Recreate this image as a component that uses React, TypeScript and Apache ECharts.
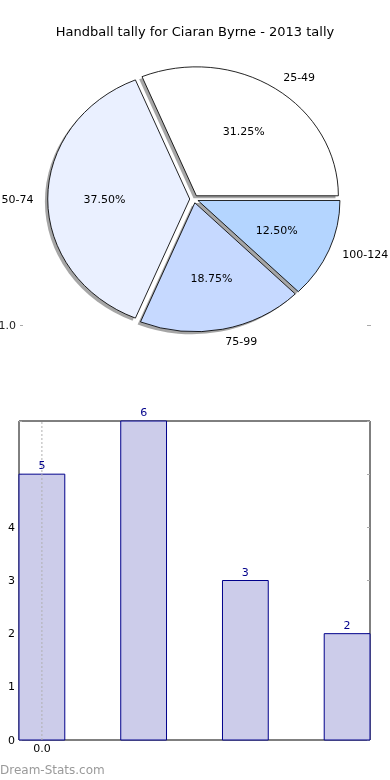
import React, { useEffect, useRef } from "react";
import * as echarts from "echarts";

const TITLE = "Handball tally for Ciaran Byrne - 2013 tally";
const categories = ["25-49", "50-74", "75-99", "100-124"];
const tallies = [5, 6, 3, 2];
const sliceColors = ["#ffffff", "#eaf0ff", "#c6d9ff", "#b4d5ff"];
const barPositions = [0, 1, 2, 3];
const yTickLabelMax = 4;
const xTickValue = [0.225];
const xTickLabels = ["0.0"];
const BAR_W = 0.45;

export default function App() {
  const ref = useRef<HTMLDivElement>(null);
  useEffect(() => {
    const chart = echarts.init(ref.current!, null, { renderer: "svg" });
    const font = "DejaVu Sans";
    const total = tallies.reduce((a, b) => a + b, 0);
    // pie geometry (matplotlib pie drawn in non-square axes -> ellipse)
    const CX = 194, CY = 199, RX = 142, RY = 129, EXPLODE = 0.03;
    const LABEL_D = 1.1, PCT_D = 0.6;

    chart.setOption({
      animation: false,
      title: {
        text: TITLE,
        left: "center",
        top: 20,
        textStyle: { fontFamily: font, fontSize: 13, fontWeight: "normal", color: "#000" },
      },
      grid: {
        left: 19,
        top: 421,
        width: 351,
        height: 319,
        show: true,
        borderColor: "#000",
        borderWidth: 1,
        backgroundColor: "transparent",
      },
      xAxis: {
        type: "value",
        min: 0,
        max: barPositions.length - 1 + BAR_W,
        axisLine: { show: false },
        splitLine: { show: false },
        axisTick: { show: false },
        axisLabel: {
          customValues: xTickValue,
          formatter: (v: number) => {
            const idx = xTickValue.indexOf(v);
            return idx >= 0 ? xTickLabels[idx] : "";
          },
          color: "#000",
          fontFamily: font,
          fontSize: 11,
          margin: 3,
        },
      },
      yAxis: [
        {
          type: "value",
          min: 0,
          max: 6,
          interval: 1,
          axisLine: { show: false },
          splitLine: { show: false },
          axisTick: { show: true, inside: true, length: 3, lineStyle: { color: "#aaa" } },
          axisLabel: {
            formatter: (v: number) => (v <= yTickLabelMax ? String(v) : ""),
            color: "#000",
            fontFamily: font,
            fontSize: 11,
            margin: 4,
          },
        },
        {
          type: "value",
          position: "right",
          min: 0,
          max: 6,
          interval: 1,
          axisLine: { show: false },
          splitLine: { show: false },
          axisTick: { show: true, inside: true, length: 3, lineStyle: { color: "#aaa" } },
          axisLabel: { show: false },
        },
      ],
      series: [
        {
          type: "custom",
          coordinateSystem: "none",
          silent: true,
          data: categories.map((c, i) => [i, tallies[i]]),
          renderItem: (params: any, api: any) => {
            const i = params.dataIndex;
            const v = api.value(1);
            let before = 0;
            for (let k = 0; k < i; k++) before += tallies[k];
            const t1 = (before / total) * Math.PI * 2;
            const t2 = ((before + v) / total) * Math.PI * 2;
            const tm = (t1 + t2) / 2;
            const ox = CX + EXPLODE * RX * Math.cos(tm);
            const oy = CY - EXPLODE * RY * Math.sin(tm);
            const sy = RY / RX;
            const shape = { cx: 0, cy: 0, r: RX, r0: 0, startAngle: -t1, endAngle: -t2, clockwise: false };
            const lx = ox + LABEL_D * RX * Math.cos(tm);
            const ly = oy - LABEL_D * RY * Math.sin(tm);
            const px = ox + PCT_D * RX * Math.cos(tm);
            const py = oy - PCT_D * RY * Math.sin(tm);
            return {
              type: "group",
              children: [
                {
                  type: "sector",
                  shape,
                  x: ox - 0.02 * RX,
                  y: oy + 0.02 * RY,
                  scaleY: sy,
                  z2: 0,
                  style: { fill: "rgba(77,77,77,0.5)", lineWidth: 0 },
                },
                {
                  type: "sector",
                  shape,
                  x: ox,
                  y: oy,
                  scaleY: sy,
                  z2: 10,
                  style: { fill: sliceColors[i], stroke: "#000", lineWidth: 0.9, strokeNoScale: true },
                },
                {
                  type: "text",
                  x: lx,
                  y: ly,
                  z2: 20,
                  style: {
                    text: categories[i],
                    fill: "#000",
                    font: `11px "${font}"`,
                    align: Math.cos(tm) > 0 ? "left" : "right",
                    verticalAlign: "middle",
                  },
                },
                {
                  type: "text",
                  x: px,
                  y: py,
                  z2: 20,
                  style: {
                    text: ((v / total) * 100).toFixed(2) + "%",
                    fill: "#000",
                    font: `11px "${font}"`,
                    align: "center",
                    verticalAlign: "middle",
                  },
                },
              ],
            };
          },
        },
        {
          type: "custom",
          data: barPositions.map((x, i) => [x, tallies[i]]),
          z: 3,
          renderItem: (_params: any, api: any) => {
            const x0 = api.value(0);
            const v = api.value(1);
            const p1 = api.coord([x0, v]);
            const p2 = api.coord([x0 + BAR_W, 0]);
            return {
              type: "group",
              children: [
                {
                  type: "rect",
                  shape: { x: p1[0], y: p1[1], width: p2[0] - p1[0], height: p2[1] - p1[1] },
                  style: { fill: "#ccccea", stroke: "#00008b", lineWidth: 1 },
                },
                {
                  type: "text",
                  x: (p1[0] + p2[0]) / 2,
                  y: p1[1] - 3,
                  style: {
                    text: String(v),
                    fill: "#00008b",
                    font: `11px "${font}"`,
                    align: "center",
                    verticalAlign: "bottom",
                  },
                },
              ],
            };
          },
        },
        {
          type: "line",
          data: [
            [xTickValue[0], 0],
            [xTickValue[0], 6],
          ],
          symbol: "none",
          silent: true,
          lineStyle: { color: "#b0b0b0", type: [2, 2], width: 1 },
          z: 5,
        },
      ],
      graphic: [
        {
          type: "text",
          x: 16,
          y: 325,
          style: { text: "1.0", fill: "#222", font: `11px "${font}"`, align: "right", verticalAlign: "middle" },
        },
        { type: "rect", shape: { x: 20, y: 325, width: 3, height: 1 }, style: { fill: "#aaa" } },
        { type: "rect", shape: { x: 367, y: 325, width: 4, height: 1 }, style: { fill: "#aaa" } },
        {
          type: "text",
          x: 0,
          y: 770,
          style: { text: "Dream-Stats.com", fill: "#9a9a9a", font: `12px "${font}"`, align: "left", verticalAlign: "middle" },
        },
      ],
    });
    return () => chart.dispose();
  }, []);
  return <div ref={ref} style={{ position: "fixed", left: 0, top: 0, width: 390, height: 780 }} />;
}
